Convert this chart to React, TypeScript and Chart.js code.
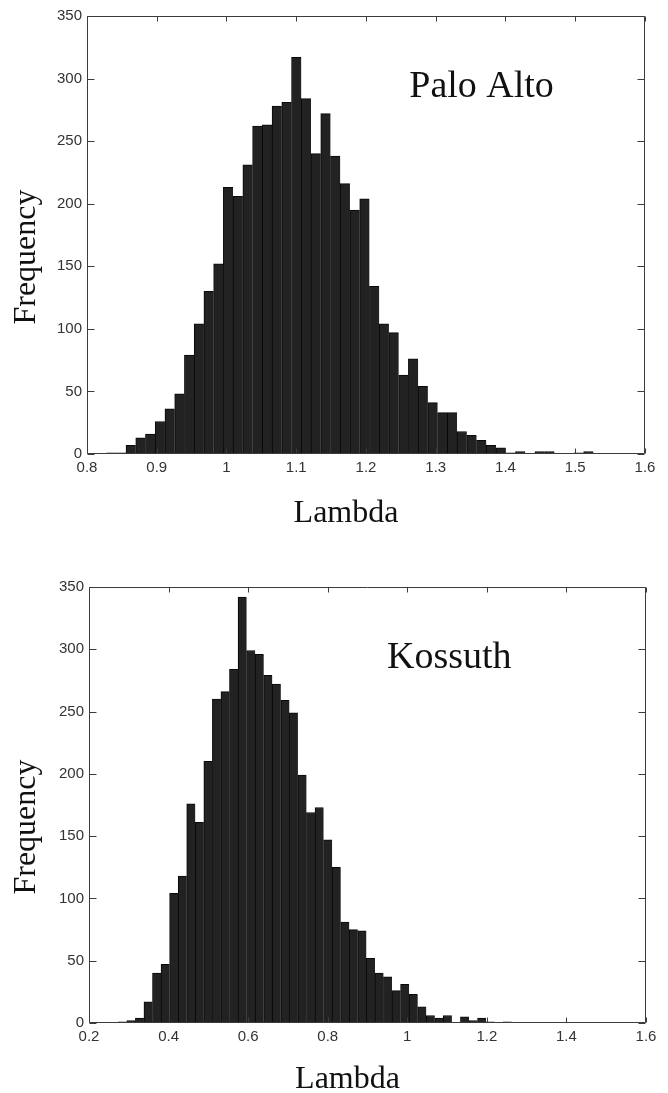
import React, { useEffect, useRef } from 'react';
import { Chart, registerables } from 'chart.js';

Chart.register(...registerables);

// ---------------- Data: Palo Alto (50-bin histogram) ----------------
const paloAltoBinStart = 0.828;
const paloAltoBinWidth = 0.01396;
const paloAltoCounts = [
  1, 1, 7, 13, 16, 26, 36, 48, 79, 104,
  130, 152, 213, 206, 231, 262, 263, 278, 281, 317,
  284, 240, 272, 238, 216, 195, 204, 134, 104, 97,
  63, 76, 54, 41, 33, 33, 18, 15, 11, 7,
  5, 1, 2, 0, 2, 2, 0, 0, 1, 2,
];
const paloAltoXTicks = [0.8, 0.9, 1.0, 1.1, 1.2, 1.3, 1.4, 1.5, 1.6];

// ---------------- Data: Kossuth (50-bin histogram) ----------------
const kossuthBinStart = 0.2736;
const kossuthBinWidth = 0.0215;
const kossuthCounts = [
  1, 2, 4, 17, 40, 47, 104, 118, 176, 161,
  210, 260, 266, 284, 342, 299, 296, 279, 272, 259,
  249, 199, 169, 173, 147, 125, 81, 75, 74, 52,
  40, 37, 26, 31, 23, 13, 6, 4, 6, 0,
  5, 2, 4, 1, 0, 1, 0, 0, 0, 0,
];
const kossuthXTicks = [0.2, 0.4, 0.6, 0.8, 1.0, 1.2, 1.4, 1.6];

const frequencyTicks = [0, 50, 100, 150, 200, 250, 300, 350];

const xAxisTitle = 'Lambda';
const yAxisTitle = 'Frequency';

const TICK_FONT = "'Liberation Sans', Arial, Helvetica, sans-serif";
const TITLE_FONT = "'Liberation Serif', 'Times New Roman', serif";
const LABEL_FONT = "'Liberation Serif', 'Times New Roman', serif";

type PlotLayout = {
  canvasTop: number;
  canvasHeight: number;
  plotLeft: number;
  plotRight: number;
  plotTop: number;
  plotBottom: number;
};

type HistProps = {
  binStart: number;
  binWidth: number;
  counts: number[];
  xTicks: number[];
  yTicks: number[];
  label: { text: string; x: number; y: number };
  layout: PlotLayout;
  xTitleBaseline: number;
};

const CANVAS_W = 668;
const X_AXIS_HEIGHT = 69;

function Histogram(props: HistProps) {
  const ref = useRef<HTMLCanvasElement | null>(null);

  useEffect(() => {
    const canvas = ref.current;
    if (!canvas) return;
    const { binStart, binWidth, counts, xTicks, yTicks, label, layout, xTitleBaseline } = props;
    const xMin = xTicks[0];
    const xMax = xTicks[xTicks.length - 1];
    const yMin = yTicks[0];
    const yMax = yTicks[yTicks.length - 1];
    const points = counts.map((c, i) => ({ x: binStart + binWidth * (i + 0.5), y: c }));
    const fmt = (v: number) => String(Number(Number(v).toFixed(2)));

    const framePlugin = {
      id: 'matlabFrame',
      afterDatasetsDraw(chart: any) {
        const { ctx, chartArea } = chart;
        const { left, right, top, bottom } = chartArea;
        const xs = chart.scales.x;
        const ys = chart.scales.y;
        ctx.save();
        ctx.strokeStyle = '#3c3c3c';
        ctx.lineWidth = 1;
        const L = Math.round(left) + 0.5;
        const R = Math.round(right) - 0.5;
        const T = Math.round(top) + 0.5;
        const B = Math.round(bottom) - 0.5;
        ctx.beginPath();
        ctx.rect(L, T, R - L, B - T);
        xs.ticks.forEach((t: any) => {
          const px = Math.round(xs.getPixelForValue(t.value)) + 0.5;
          ctx.moveTo(px, B);
          ctx.lineTo(px, B - 5);
          ctx.moveTo(px, T);
          ctx.lineTo(px, T + 5);
        });
        ys.ticks.forEach((t: any) => {
          const py = Math.round(ys.getPixelForValue(t.value)) + 0.5;
          ctx.moveTo(L, py);
          ctx.lineTo(L + 7, py);
          ctx.moveTo(R, py);
          ctx.lineTo(R - 7, py);
        });
        ctx.stroke();

        // in-plot label
        ctx.font = `38px ${LABEL_FONT}`;
        ctx.fillStyle = '#111';
        ctx.textAlign = 'left';
        ctx.textBaseline = 'alphabetic';
        ctx.fillText(label.text, xs.getPixelForValue(label.x), ys.getPixelForValue(label.y));

        // axis titles
        ctx.font = `32px ${TITLE_FONT}`;
        ctx.fillStyle = '#111';
        ctx.textAlign = 'center';
        ctx.textBaseline = 'alphabetic';
        ctx.fillText(xAxisTitle, (left + right) / 2 - 20, bottom + xTitleBaseline);

        ctx.save();
        ctx.translate(35, (top + bottom) / 2 + 22);
        ctx.rotate(-Math.PI / 2);
        ctx.fillText(yAxisTitle, 0, 0);
        ctx.restore();

        ctx.restore();
      },
    };

    const chart = new Chart(canvas, {
      type: 'bar',
      data: {
        datasets: [
          {
            data: points as any,
            backgroundColor: '#222222',
            borderColor: '#080808',
            borderWidth: { top: 1, left: 1, right: 0, bottom: 0 } as any,
            borderSkipped: 'bottom',
            barPercentage: 1,
            categoryPercentage: 1,
          },
        ],
      },
      options: {
        responsive: false,
        animation: false,
        events: [],
        layout: {
          padding: {
            left: 0,
            right: CANVAS_W - layout.plotRight,
            top: layout.plotTop,
            bottom: layout.canvasHeight - layout.plotBottom - X_AXIS_HEIGHT,
          },
        },
        plugins: {
          legend: { display: false },
          tooltip: { enabled: false },
        },
        scales: {
          x: {
            type: 'linear',
            min: xMin,
            max: xMax,
            offset: false,
            grid: { display: false, drawTicks: false },
            border: { display: false },
            afterBuildTicks: (s: any) => {
              s.ticks = xTicks.map((v) => ({ value: v }));
            },
            ticks: {
              autoSkip: false,
              maxRotation: 0,
              padding: 5,
              color: '#333',
              font: { family: TICK_FONT, size: 15 },
              callback: (v: any) => fmt(v),
            },
            afterFit: (s: any) => {
              s.height = X_AXIS_HEIGHT;
              s.paddingLeft = 0;
              s.paddingRight = 0;
            },
          },
          y: {
            type: 'linear',
            min: yMin,
            max: yMax,
            grid: { display: false, drawTicks: false },
            border: { display: false },
            afterBuildTicks: (s: any) => {
              s.ticks = yTicks.map((v) => ({ value: v }));
            },
            ticks: {
              autoSkip: false,
              padding: 5,
              color: '#333',
              font: { family: TICK_FONT, size: 15 },
              callback: (v: any) => fmt(v),
            },
            afterFit: (s: any) => {
              s.width = layout.plotLeft;
              s.paddingTop = 0;
              s.paddingBottom = 0;
            },
          },
        },
      } as any,
      plugins: [framePlugin],
    });

    return () => chart.destroy();
  }, []);

  return (
    <canvas
      ref={ref}
      width={CANVAS_W}
      height={props.layout.canvasHeight}
      style={{
        position: 'absolute',
        left: 0,
        top: props.layout.canvasTop,
        width: CANVAS_W,
        height: props.layout.canvasHeight,
        display: 'block',
      }}
    />
  );
}

export default function App() {
  return (
    <div
      style={{
        position: 'absolute',
        left: 0,
        top: 0,
        width: CANVAS_W,
        height: 1093,
        background: '#ffffff',
        overflow: 'hidden',
      }}
    >
      <Histogram
        binStart={paloAltoBinStart}
        binWidth={paloAltoBinWidth}
        counts={paloAltoCounts}
        xTicks={paloAltoXTicks}
        yTicks={frequencyTicks}
        label={{ text: 'Palo Alto', x: 1.262, y: 285 }}
        layout={{ canvasTop: 0, canvasHeight: 540, plotLeft: 87, plotRight: 645, plotTop: 16, plotBottom: 454 }}
        xTitleBaseline={68}
      />
      <Histogram
        binStart={kossuthBinStart}
        binWidth={kossuthBinWidth}
        counts={kossuthCounts}
        xTicks={kossuthXTicks}
        yTicks={frequencyTicks}
        label={{ text: 'Kossuth', x: 0.949, y: 285 }}
        layout={{ canvasTop: 540, canvasHeight: 553, plotLeft: 89, plotRight: 646, plotTop: 47, plotBottom: 483 }}
        xTitleBaseline={65}
      />
    </div>
  );
}
